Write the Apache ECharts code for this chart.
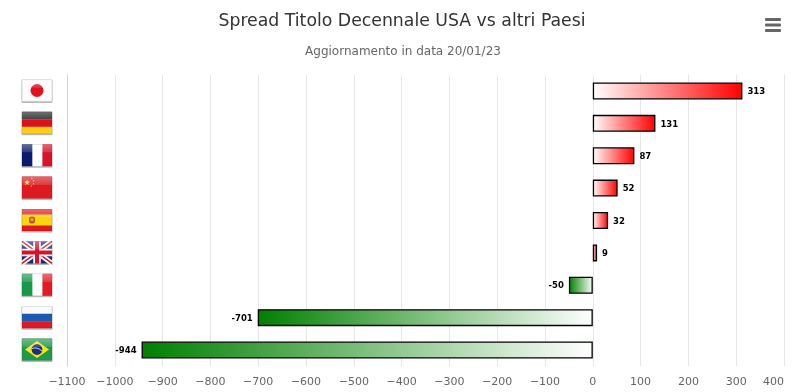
<!DOCTYPE html>
<html><head><meta charset="utf-8">
<style>html,body{margin:0;padding:0;background:#fff}#c{width:795px;height:392px}</style>
<script src="https://cdn.jsdelivr.net/npm/echarts@6/dist/echarts.min.js"></script>
</head><body><div id="c"></div>
<script>
const countries = ['Giappone','Germania','Francia','Cina','Spagna','Regno Unito','Italia','Russia','Brasile'];
const spreads = [313,131,87,52,32,9,-50,-701,-944];
const titleText = 'Spread Titolo Decennale USA vs altri Paesi';
const subtitleText = 'Aggiornamento in data 20/01/23';
const FONT = '"DejaVu Sans", sans-serif';

const star = (x,y,r,rot)=>{let p=[];for(let i=0;i<10;i++){const a=-Math.PI/2+i*Math.PI/5+(rot||0),q=i%2?r*0.4:r;p.push((x+q*Math.cos(a)).toFixed(2)+','+(y+q*Math.sin(a)).toFixed(2));}return `<polygon points="${p.join(' ')}" fill="#ffe24a"/>`;};
const flagArt = {
 Giappone:'<rect width="30" height="22" fill="#fbfbfb"/><circle cx="15" cy="11" r="6.5" fill="#e3101f"/>',
 Germania:'<rect width="30" height="8" fill="#222"/><rect y="7.3" width="30" height="8" fill="#e01020"/><rect y="15" width="30" height="7" fill="#fbcf12"/>',
 Francia:'<rect width="10.5" height="22" fill="#0b1a70"/><rect x="10.5" width="10" height="22" fill="#fff"/><rect x="20.5" width="9.5" height="22" fill="#dc1028"/>',
 Cina:'<rect width="30" height="22" fill="#dd1a20"/>'+star(5,6,3.1)+star(9.8,1.8,1)+star(11.5,4.2,1)+star(11.5,7.2,1)+star(9.3,9.4,1),
 Spagna:'<rect width="30" height="22" fill="#dd1a20"/><rect y="5.5" width="30" height="11" fill="#fdd50f"/><rect x="7" y="7.5" width="6" height="7" rx="2" fill="#c2553a"/><rect x="8.5" y="9" width="3" height="3" fill="#e8a020"/>',
 'Regno Unito':'<rect width="30" height="22" fill="#1a2a78"/><path d="M0 0L30 22M30 0L0 22" stroke="#fff" stroke-width="5"/><path d="M0 0L30 22M30 0L0 22" stroke="#dc1028" stroke-width="1.5"/><path d="M15 0V22M0 11H30" stroke="#fff" stroke-width="7.5"/><path d="M15 0V22M0 11H30" stroke="#dc1028" stroke-width="4"/>',
 Italia:'<rect width="10.5" height="22" fill="#159a4c"/><rect x="10.5" width="10" height="22" fill="#fff"/><rect x="20.5" width="9.5" height="22" fill="#e31b23"/>',
 Russia:'<rect width="30" height="7.5" fill="#fafafa"/><rect y="7.5" width="30" height="7.5" fill="#1c5bb0"/><rect y="15" width="30" height="7" fill="#e01a25"/>',
 Brasile:'<rect width="30" height="22" fill="#1f9a4a"/><polygon points="15,2.5 27,11 15,19.5 3,11" fill="#fce21a"/><circle cx="15" cy="11" r="5.4" fill="#1c2f7e"/><path d="M10 10Q15 8 20 12.5" stroke="#fff" stroke-width="0.8" fill="none"/>'
};
function flagUri(name){
  const svg = `<svg xmlns="http://www.w3.org/2000/svg" width="32" height="25" viewBox="0 0 32 25"><defs><linearGradient id="g" x1="0" y1="0" x2="0" y2="1"><stop offset="0" stop-color="#fff" stop-opacity=".35"/><stop offset=".36" stop-color="#fff" stop-opacity=".14"/><stop offset=".38" stop-color="#fff" stop-opacity="0"/></linearGradient></defs><rect x="0.5" y="1" width="31" height="23.5" rx="1" fill="#999" opacity=".7"/><g transform="translate(1,1)">${flagArt[name]}<rect width="30" height="22" fill="url(#g)"/><rect x=".3" y=".3" width="29.4" height="21.4" fill="none" stroke="#000" stroke-opacity=".12" stroke-width=".6"/></g></svg>`;
  return 'data:image/svg+xml;charset=utf-8,' + encodeURIComponent(svg);
}
const richFlags = {};
countries.forEach((n,i)=>{richFlags['f'+i]={width:32,height:25,backgroundColor:{image:flagUri(n)}};});

const barItems = spreads.map(v=>({
  value:v,
  itemStyle:{color:new echarts.graphic.LinearGradient(0,0,1,0,
    v>=0?[{offset:0,color:'#ffffff'},{offset:1,color:'#ff0000'}]
        :[{offset:0,color:'#008000'},{offset:1,color:'#ffffff'}])},
  label:{position:v>=0?'right':'left'}
}));

const chart = echarts.init(document.getElementById('c'),null,{renderer:'canvas'});
chart.setOption({
  animation:false,
  backgroundColor:'#fff',
  title:[
    {text:titleText,left:397,top:8,textAlign:'center',textStyle:{fontFamily:FONT,fontSize:17.3,fontWeight:'normal',color:'#333'}},
    {text:subtitleText,left:398,top:41,textAlign:'center',textStyle:{fontFamily:FONT,fontSize:12,fontWeight:'normal',color:'#666'}}
  ],
  grid:{left:67,right:11,top:74.8,bottom:25.8,containLabel:false},
  xAxis:{type:'value',min:-1100,max:400,interval:100,
    axisLine:{show:false},axisTick:{show:false},
    splitLine:{show:true,lineStyle:{color:'#e6e6e6',width:1}},
    axisLabel:{margin:10,alignMaxLabel:'right',color:'#666',fontFamily:FONT,fontSize:11,
      showMinLabel:true,showMaxLabel:true,hideOverlap:false,
      formatter:v=>String(v).replace('-','\u2212')}
  },
  yAxis:{type:'category',inverse:true,data:countries,
    axisLine:{show:true,onZero:false,lineStyle:{color:'#ccd6eb',width:1}},axisTick:{show:false},
    axisLabel:{margin:14,interval:0,formatter:(v,i)=>`{f${i}|}`,rich:richFlags}
  },
  series:[{type:'bar',data:barItems,barWidth:17,
    itemStyle:{borderColor:'#000',borderWidth:1.3},
    label:{show:true,distance:5,offset:[0,1],color:'#000',fontFamily:FONT,fontSize:8.5,fontWeight:'bold'}
  }],
  graphic:[
    {type:'rect',shape:{x:765,y:18,width:16,height:3,r:1},style:{fill:'#666'}},
    {type:'rect',shape:{x:765,y:23.5,width:16,height:3,r:1},style:{fill:'#666'}},
    {type:'rect',shape:{x:765,y:29,width:16,height:3,r:1},style:{fill:'#666'}}
  ]
});
</script></body></html>
